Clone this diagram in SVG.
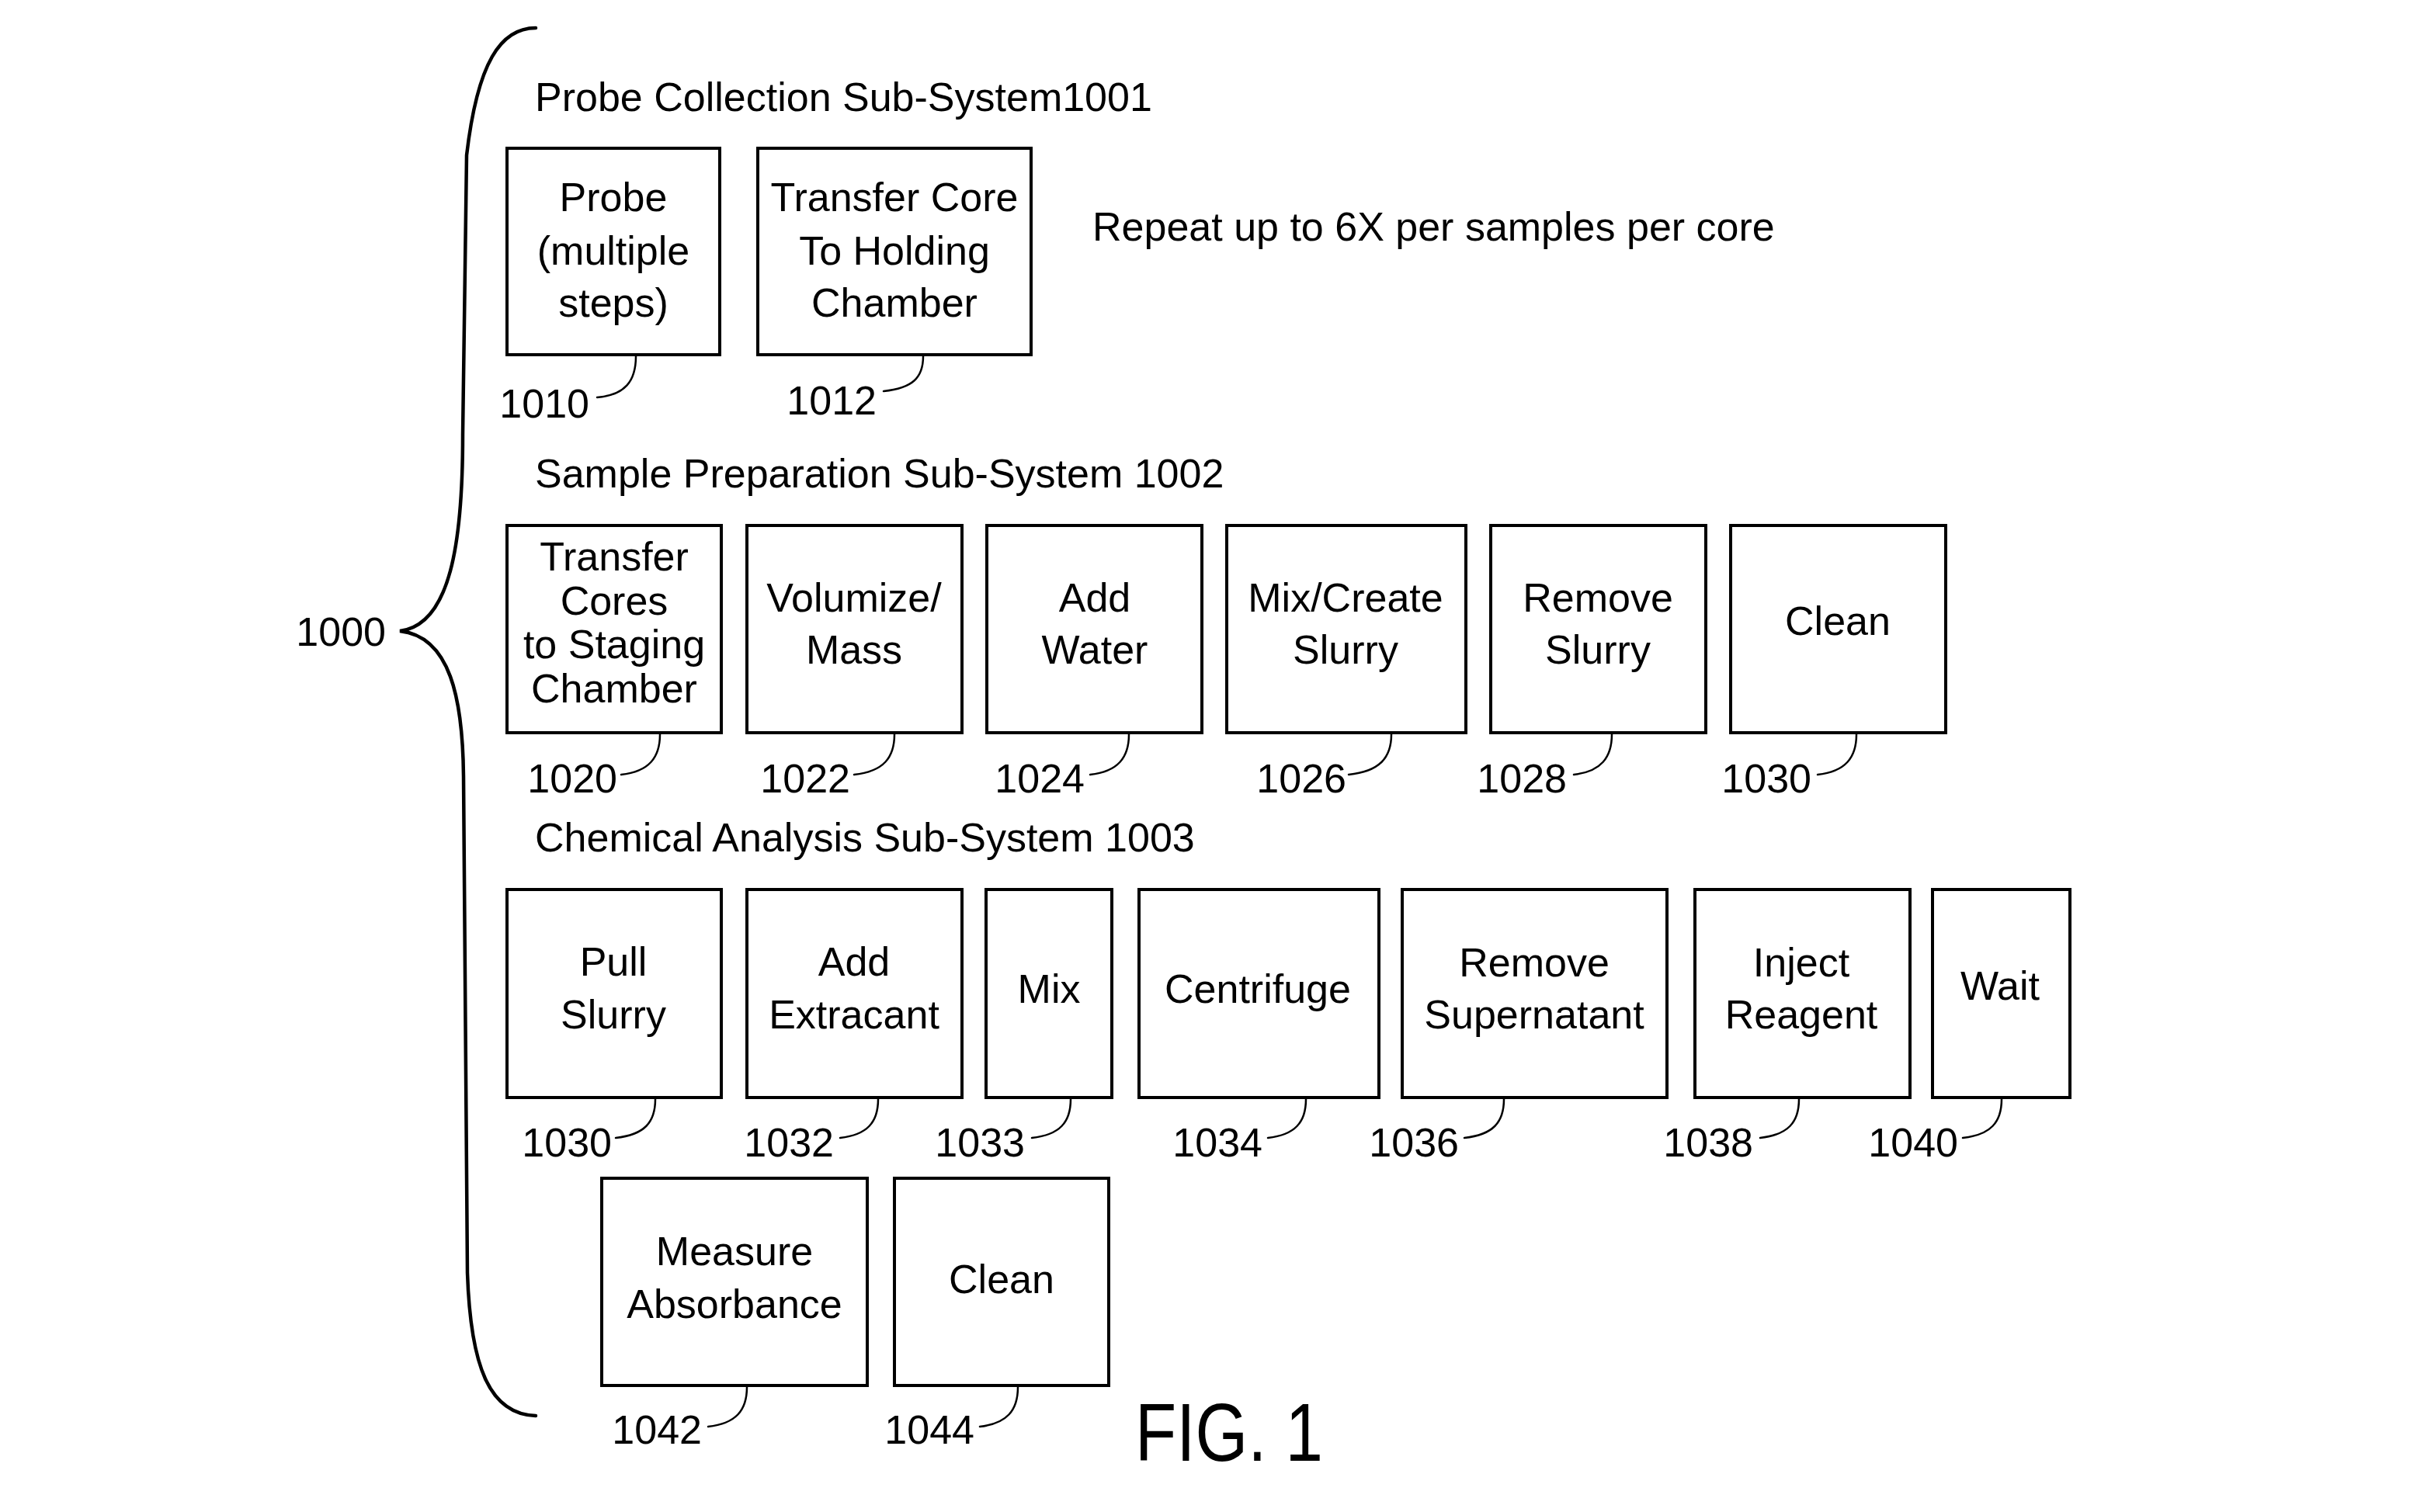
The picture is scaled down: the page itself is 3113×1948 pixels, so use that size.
<svg xmlns="http://www.w3.org/2000/svg" width="3113" height="1948" viewBox="0 0 3113 1948">
<style>
text{font-family:"Liberation Sans",Arial,sans-serif;font-size:52px;fill:#000}
.box{fill:#fff;stroke:#000;stroke-width:4}
.c{text-anchor:middle}
.n{text-anchor:end}
.fig{font-size:105px}
.lead{fill:none;stroke:#000;stroke-width:2.5;stroke-linecap:round}
.brace{fill:none;stroke:#000;stroke-width:4.5;stroke-linecap:round;stroke-linejoin:miter}
</style>
<rect width="3113" height="1948" fill="#fff"/>

<g id="system-1000">
<path class="brace" d="M690 36 C645 36 615 80 601 200 L596 560 C596 700 580 805 515 813 C580 820 596 900 597 1000 L602 1640 C606 1760 630 1822 690 1824"/>
<text class="n" x="497" y="832">1000</text>
</g>

<g id="titles">
<text x="689" y="143">Probe Collection Sub-System1001</text>
<text x="689" y="628">Sample Preparation Sub-System 1002</text>
<text x="689" y="1097">Chemical Analysis Sub-System 1003</text>
<text x="1407" y="310">Repeat up to 6X per samples per core</text>
<text class="fig" x="1462" y="1882" textLength="242" lengthAdjust="spacingAndGlyphs">FIG. 1</text>
</g>

<g id="node-1010">
<rect class="box" x="653" y="191" width="274" height="266"/>
<text class="c" x="790" y="272">Probe</text>
<text class="c" x="790" y="341">(multiple</text>
<text class="c" x="790" y="408">steps)</text>
<text class="n" x="759" y="538">1010</text>
</g>
<g id="node-1012">
<rect class="box" x="976" y="191" width="352" height="266"/>
<text class="c" x="1152" y="272">Transfer Core</text>
<text class="c" x="1152" y="341">To Holding</text>
<text class="c" x="1152" y="408">Chamber</text>
<text class="n" x="1129" y="534">1012</text>
</g>

<g id="node-1020">
<rect class="box" x="653" y="677" width="276" height="267"/>
<text class="c" x="791" y="735">Transfer</text>
<text class="c" x="791" y="792">Cores</text>
<text class="c" x="791" y="848">to Staging</text>
<text class="c" x="791" y="905">Chamber</text>
<text class="n" x="795" y="1021">1020</text>
</g>
<g id="node-1022">
<rect class="box" x="962" y="677" width="277" height="267"/>
<text class="c" x="1100" y="788">Volumize/</text>
<text class="c" x="1100" y="855">Mass</text>
<text class="n" x="1095" y="1021">1022</text>
</g>
<g id="node-1024">
<rect class="box" x="1271" y="677" width="277" height="267"/>
<text class="c" x="1410" y="788">Add</text>
<text class="c" x="1410" y="855">Water</text>
<text class="n" x="1397" y="1021">1024</text>
</g>
<g id="node-1026">
<rect class="box" x="1580" y="677" width="308" height="267"/>
<text class="c" x="1733" y="788">Mix/Create</text>
<text class="c" x="1733" y="855">Slurry</text>
<text class="n" x="1734" y="1021">1026</text>
</g>
<g id="node-1028">
<rect class="box" x="1920" y="677" width="277" height="267"/>
<text class="c" x="2058" y="788">Remove</text>
<text class="c" x="2058" y="855">Slurry</text>
<text class="n" x="2018" y="1021">1028</text>
</g>
<g id="node-1030-clean">
<rect class="box" x="2229" y="677" width="277" height="267"/>
<text class="c" x="2367" y="818">Clean</text>
<text class="n" x="2333" y="1021">1030</text>
</g>

<g id="node-1030-pull">
<rect class="box" x="653" y="1146" width="276" height="268"/>
<text class="c" x="790" y="1257">Pull</text>
<text class="c" x="790" y="1325">Slurry</text>
<text class="n" x="788" y="1490">1030</text>
</g>
<g id="node-1032">
<rect class="box" x="962" y="1146" width="277" height="268"/>
<text class="c" x="1100" y="1257">Add</text>
<text class="c" x="1100" y="1325">Extracant</text>
<text class="n" x="1074" y="1490">1032</text>
</g>
<g id="node-1033">
<rect class="box" x="1270" y="1146" width="162" height="268"/>
<text class="c" x="1351" y="1292">Mix</text>
<text class="n" x="1320" y="1490">1033</text>
</g>
<g id="node-1034">
<rect class="box" x="1467" y="1146" width="309" height="268"/>
<text class="c" x="1620" y="1292">Centrifuge</text>
<text class="n" x="1626" y="1490">1034</text>
</g>
<g id="node-1036">
<rect class="box" x="1806" y="1146" width="341" height="268"/>
<text class="c" x="1976" y="1258">Remove</text>
<text class="c" x="1976" y="1325">Supernatant</text>
<text class="n" x="1879" y="1490">1036</text>
</g>
<g id="node-1038">
<rect class="box" x="2183" y="1146" width="277" height="268"/>
<text class="c" x="2320" y="1258">Inject</text>
<text class="c" x="2320" y="1325">Reagent</text>
<text class="n" x="2258" y="1490">1038</text>
</g>
<g id="node-1040">
<rect class="box" x="2489" y="1146" width="177" height="268"/>
<text class="c" x="2576" y="1288">Wait</text>
<text class="n" x="2522" y="1490">1040</text>
</g>

<g id="node-1042">
<rect class="box" x="775" y="1518" width="342" height="267"/>
<text class="c" x="946" y="1630">Measure</text>
<text class="c" x="946" y="1698">Absorbance</text>
<text class="n" x="904" y="1860">1042</text>
</g>
<g id="node-1044">
<rect class="box" x="1152" y="1518" width="276" height="267"/>
<text class="c" x="1290" y="1666">Clean</text>
<text class="n" x="1255" y="1860">1044</text>
</g>

<g id="connectors">
<path class="lead" d="M819 459 C819 491 805 509 769 512"/>
<path class="lead" d="M1189 459 C1189 487 1175 500 1138 504"/>
<path class="lead" d="M850 946 C850 976 836 994 800 998"/>
<path class="lead" d="M1152 946 C1152 976 1138 994 1100 998"/>
<path class="lead" d="M1454 946 C1454 976 1440 994 1404 998"/>
<path class="lead" d="M1792 946 C1792 976 1777 994 1737 998"/>
<path class="lead" d="M2076 946 C2076 976 2062 994 2027 998"/>
<path class="lead" d="M2391 946 C2391 976 2377 994 2341 998"/>
<path class="lead" d="M844 1416 C844 1446 830 1462 793 1466"/>
<path class="lead" d="M1131 1416 C1131 1446 1117 1462 1082 1466"/>
<path class="lead" d="M1379 1416 C1379 1446 1365 1462 1329 1466"/>
<path class="lead" d="M1682 1416 C1682 1446 1668 1462 1633 1466"/>
<path class="lead" d="M1937 1416 C1937 1446 1923 1462 1886 1466"/>
<path class="lead" d="M2317 1416 C2317 1446 2303 1462 2267 1466"/>
<path class="lead" d="M2578 1416 C2578 1446 2564 1462 2528 1466"/>
<path class="lead" d="M962 1787 C962 1817 948 1834 912 1838"/>
<path class="lead" d="M1311 1787 C1311 1817 1297 1834 1262 1838"/>
</g>
</svg>
